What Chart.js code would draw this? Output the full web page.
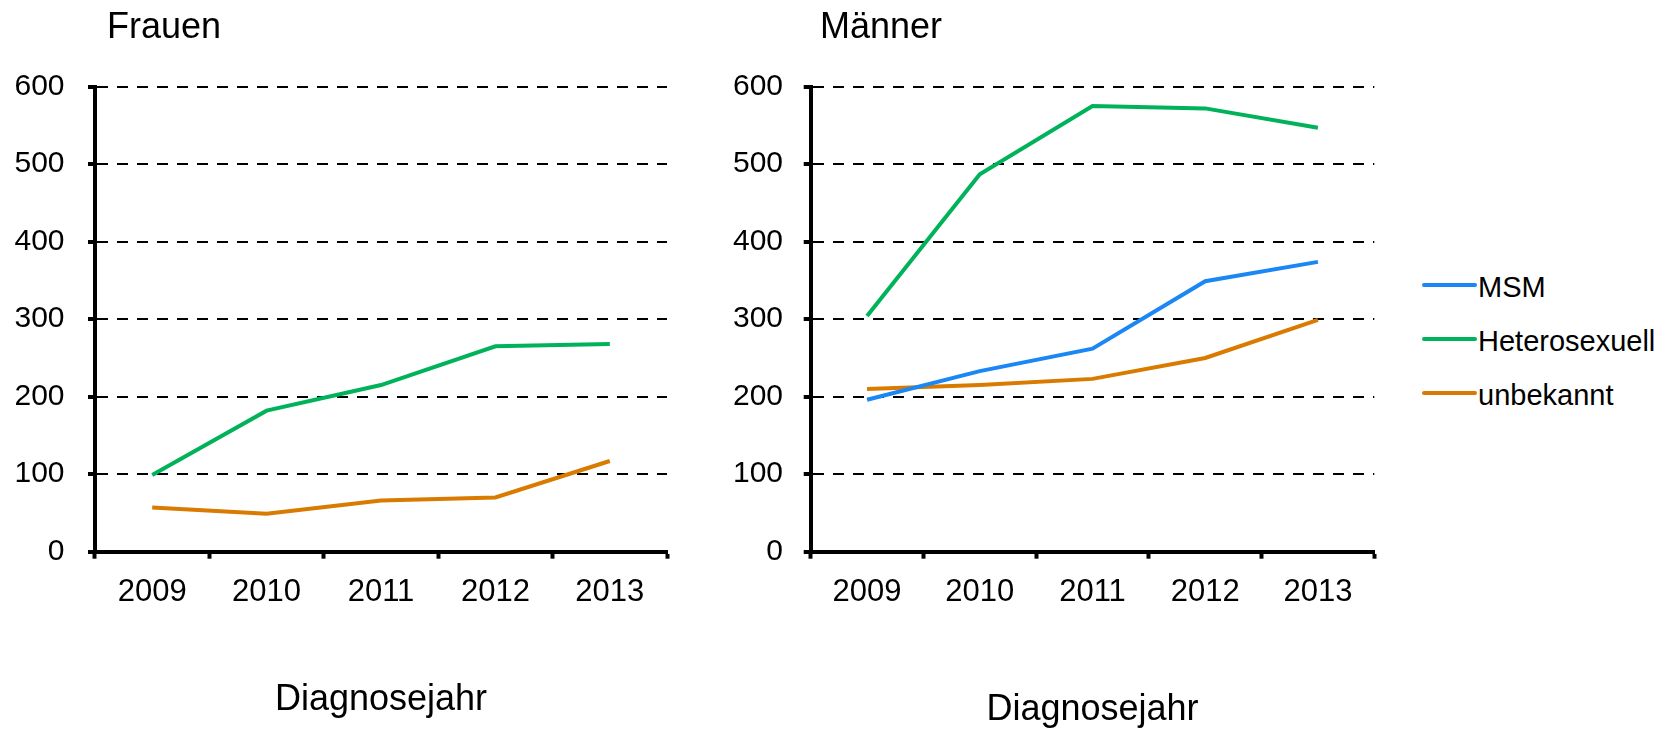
<!DOCTYPE html>
<html lang="de">
<head>
<meta charset="utf-8">
<title>HIV-Erstdiagnosen nach Transmissionsweg</title>
<script src="https://cdn.jsdelivr.net/npm/chart.js@4.4.1/dist/chart.umd.min.js"></script>
<style>
    html, body { margin: 0; padding: 0; background: #fff; overflow: hidden; }
    body { width: 1671px; height: 729px; position: relative; font-family: "Liberation Sans", Arial, sans-serif; }
    canvas { position: absolute; top: 0; }
    #frauenChart { left: 0; }
    #maennerChart { left: 720px; }
    #legend { position: absolute; left: 1422px; top: 260px; }
    .legend-row { display: flex; align-items: center; height: 54px; }
    .legend-line { width: 55px; height: 4px; border-radius: 2px; transform: translateY(-2px); }
    .legend-text { font-size: 29px; color: #000; margin-left: 1px; }
</style>
</head>
<body>
<canvas id="frauenChart" width="720" height="729"></canvas>
<canvas id="maennerChart" width="700" height="729"></canvas>
<div id="legend"></div>

<script>
// Data
const years = ['2009', '2010', '2011', '2012', '2013'];
const yTicks = [0, 100, 200, 300, 400, 500, 600];

const seriesNames = ['MSM', 'Heterosexuell', 'unbekannt'];
const seriesColors = ['#1b87f5', '#00b25a', '#d97b00'];

// Frauen
const frauenHetero = [99, 182, 215, 265, 268];
const frauenUnbekannt = [57, 49, 66, 70, 117];

// Männer
const maennerMSM = [196, 233, 262, 349, 374];
const maennerHetero = [304, 487, 575, 572, 547];
const maennerUnbekannt = [210, 215, 223, 250, 299];

const FONT = '"Liberation Sans", Arial, sans-serif';

// Draws the panel heading (Frauen / Männer)
const panelTitle = {
    id: 'panelTitle',
    afterDraw(chart, args, opts) {
        const ctx = chart.ctx;
        ctx.save();
        ctx.font = '36px ' + FONT;
        ctx.fillStyle = '#000';
        ctx.textBaseline = 'alphabetic';
        ctx.fillText(opts.text, opts.x, opts.y);
        ctx.restore();
    }
};

function lineDataset(label, data, color) {
    return {
        label: label,
        data: data,
        borderColor: color,
        backgroundColor: color,
        borderWidth: 4,
        pointRadius: 0,
        tension: 0,
        fill: false
    };
}

function makeChart(canvasId, datasets, cfg) {
    return new Chart(document.getElementById(canvasId), {
        type: 'line',
        data: { labels: years, datasets: datasets },
        plugins: [panelTitle],
        options: {
            responsive: false,
            animation: false,
            devicePixelRatio: 1,
            layout: { padding: { left: 0, top: 86.7, right: cfg.padRight, bottom: 0 } },
            plugins: {
                legend: { display: false },
                tooltip: { enabled: false },
                panelTitle: { text: cfg.title, x: cfg.titleX, y: 38 }
            },
            scales: {
                x: {
                    type: 'category',
                    offset: true,
                    grid: {
                        offset: true,
                        drawOnChartArea: false,
                        drawTicks: true,
                        tickLength: 7,
                        tickWidth: 4,
                        tickColor: '#000'
                    },
                    border: { display: true, color: '#000', width: 4 },
                    ticks: {
                        color: '#000',
                        font: { family: FONT, size: 31 },
                        padding: 15,
                        maxRotation: 0
                    },
                    title: {
                        display: true,
                        text: 'Diagnosejahr',
                        color: '#000',
                        font: { family: FONT, size: 36 },
                        padding: { top: 0, bottom: cfg.xTitlePad }
                    },
                    afterFit(scale) { scale.height = 177.3; }
                },
                y: {
                    min: 0,
                    max: 600,
                    afterBuildTicks(scale) { scale.ticks = yTicks.map(v => ({ value: v })); },
                    grid: {
                        color: '#000',
                        lineWidth: 2,
                        tickLength: 7,
                        tickWidth: 4,
                        tickColor: '#000',
                        tickBorderDash: []
                    },
                    // in v4 border.dash is what dashes the grid lines
                    border: { display: true, color: '#000', width: 4, dash: [11, 9] },
                    ticks: {
                        color: '#000',
                        font: { family: FONT, size: 30 },
                        padding: cfg.yPad
                    },
                    afterFit(scale) { scale.width = cfg.yWidth; }
                }
            }
        }
    });
}

makeChart('frauenChart', [
    lineDataset(seriesNames[1], frauenHetero, seriesColors[1]),
    lineDataset(seriesNames[2], frauenUnbekannt, seriesColors[2])
], { title: 'Frauen', titleX: 107, padRight: 53, yWidth: 95, yPad: 23.5, xTitlePad: 7.4 });

makeChart('maennerChart', [
    lineDataset(seriesNames[0], maennerMSM, seriesColors[0]),
    lineDataset(seriesNames[1], maennerHetero, seriesColors[1]),
    lineDataset(seriesNames[2], maennerUnbekannt, seriesColors[2])
], { title: 'Männer', titleX: 100, padRight: 45.7, yWidth: 90.7, yPad: 20.7, xTitlePad: -2.6 });

// HTML legend for the Männer panel
const legend = document.getElementById('legend');
seriesNames.forEach((name, i) => {
    const row = document.createElement('div');
    row.className = 'legend-row';
    row.innerHTML = `<div class="legend-line" style="background:${seriesColors[i]}"></div><span class="legend-text">${name}</span>`;
    legend.appendChild(row);
});
</script>
</body>
</html>
